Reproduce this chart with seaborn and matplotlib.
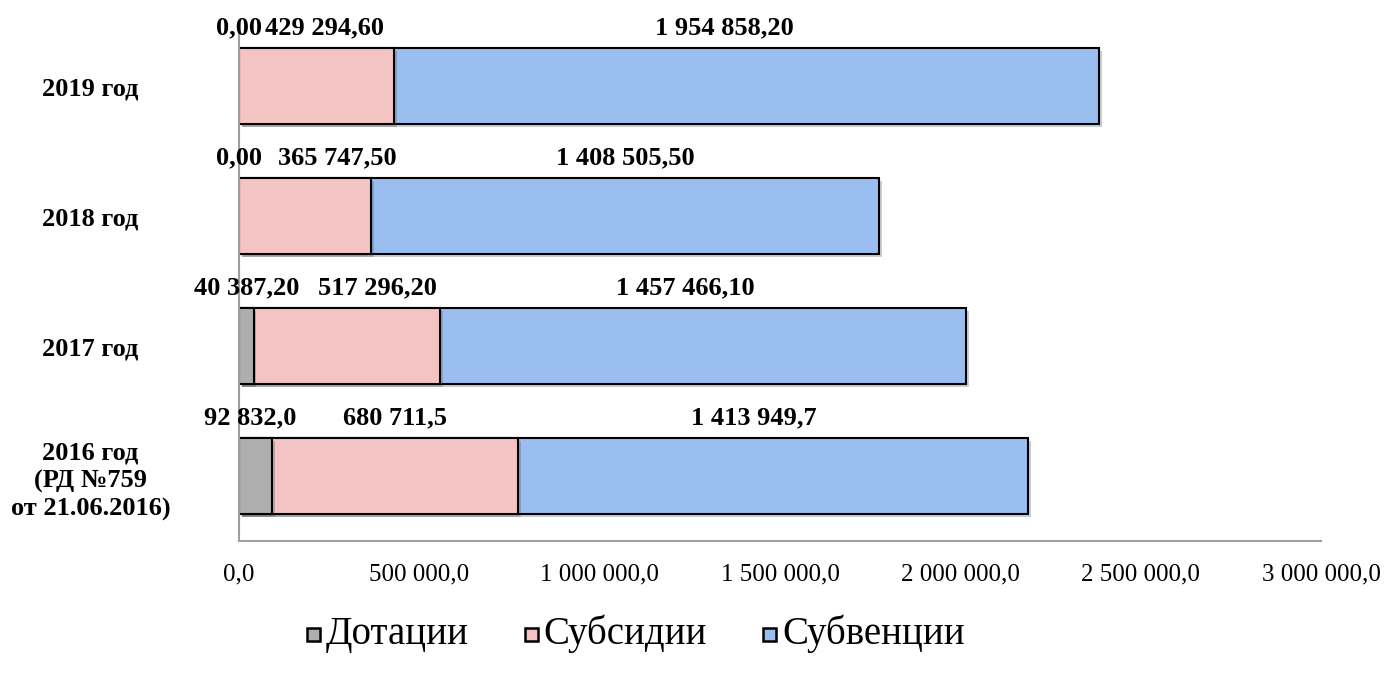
import seaborn as sns
import matplotlib.pyplot as plt
import matplotlib.patheffects as pe
from matplotlib.patches import Patch
from matplotlib.ticker import FuncFormatter, MultipleLocator

years = ["2019 год", "2018 год", "2017 год", "2016 год\n(РД №759\nот 21.06.2016)"]
dotacii = [0.0, 0.0, 40387.2, 92832.0]
subsidii = [429294.6, 365747.5, 517296.2, 680711.5]
subvencii = [1954858.2, 1408505.5, 1457466.1, 1413949.7]
decimals = [2, 2, 2, 1]
series_names = ["Дотации", "Субсидии", "Субвенции"]

colors = ["#AEAEAE", "#F4C4C4", "#9BBEF0"]
# manual horizontal shifts of the value labels (points), as in the original
label_nudge = [[0, 6, -16], [0, 23, 0], [0, 22, -13], [-4, 0, -14]]


def fmt(v, d):
    return f"{v:,.{d}f}".replace(",", " ").replace(".", ",")


sns.set_style("white")
plt.rcParams['font.family'] = ['Liberation Serif', 'DejaVu Serif']
plt.rcParams['text.color'] = 'black'
plt.rcParams['xtick.color'] = 'black'
plt.rcParams['ytick.color'] = 'black'

fig = plt.figure(figsize=(13.88, 6.73), dpi=100)
ax = fig.add_axes([0.1722, 0.1961, 0.7795, 0.7727])

cum1 = [a for a in dotacii]
cum2 = [a + b for a, b in zip(dotacii, subsidii)]
cum3 = [a + b + c for a, b, c in zip(dotacii, subsidii, subvencii)]

shadow = [pe.SimplePatchShadow(offset=(2, -2), alpha=0.25), pe.Normal()]

# draw longest first so that shorter stacks cover it
for totals, col in zip([cum3, cum2, cum1], colors[::-1]):
    sns.barplot(x=totals, y=years, orient="h", color=col, width=0.585,
                edgecolor="black", linewidth=1.5, saturation=1, ax=ax)

for p in ax.patches:
    if p.get_width() > 0:
        p.set_path_effects(shadow)
    else:
        p.set_visible(False)

# value labels above each segment
for i, y in enumerate(years):
    lefts = [0, cum1[i], cum2[i]]
    vals = [dotacii[i], subsidii[i], subvencii[i]]
    for j in range(3):
        xc = lefts[j] + vals[j] / 2
        ax.annotate(fmt(vals[j], decimals[i]), xy=(xc, i),
                    xytext=(label_nudge[i][j], 37), textcoords="offset points",
                    ha="center", va="baseline", fontsize=19, fontweight="bold")

ax.set_xlim(0, 3000000)
ax.set_ylim(3.5, -0.5)
ax.xaxis.set_major_locator(MultipleLocator(500000))
ax.xaxis.set_major_formatter(FuncFormatter(lambda v, p: fmt(v, 1)))
ax.set_xlabel("")
ax.set_ylabel("")

ax.tick_params(axis="x", length=0, pad=16, labelsize=18)
ax.tick_params(axis="y", length=0, pad=107, labelsize=19)
for lab in ax.get_yticklabels():
    lab.set_fontweight("bold")
    lab.set_horizontalalignment("center")
    lab.set_multialignment("center")
    lab.set_linespacing(1.25)

sns.despine(ax=ax, top=True, right=True)
for side in ["left", "bottom"]:
    ax.spines[side].set_color("#A0A0A0")
    ax.spines[side].set_linewidth(1.5)

handles = [Patch(facecolor=c, edgecolor="black", linewidth=1.8) for c in colors]
fig.legend(handles, series_names, loc="center", bbox_to_anchor=(0.458, 0.058),
           ncol=3, frameon=False, fontsize=28, handlelength=0.42, handleheight=0.7,
           handletextpad=0.06, columnspacing=1.45)
leg = fig.legends[0]
for h in leg.legend_handles:
    h.set_height(9.5)
    h.set_width(9.5)
    h.set_y(h.get_y() + 2)

fig.savefig("out.png", dpi=100)
